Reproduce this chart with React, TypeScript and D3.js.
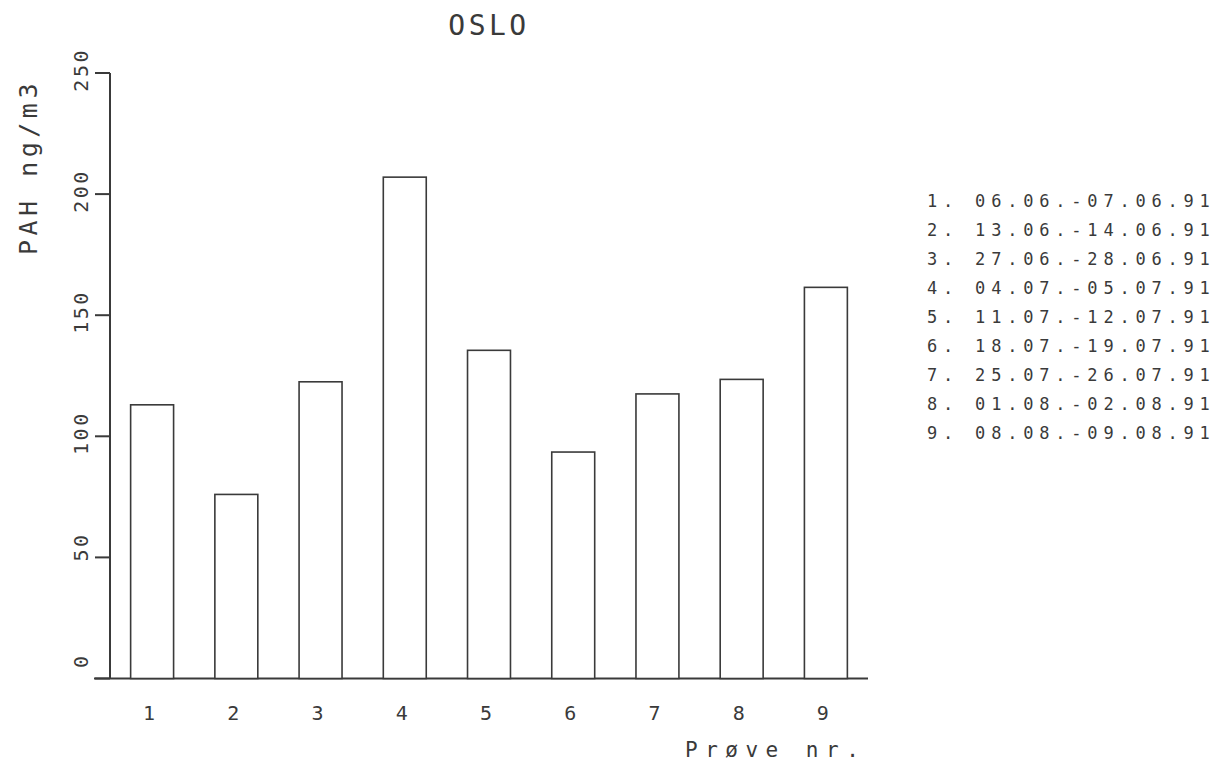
import React from 'react'
import * as d3 from 'd3'

// sample numbers, PAH values (ng/m3)
const samples = ['1', '2', '3', '4', '5', '6', '7', '8', '9']
const pah = [113, 76, 122.5, 207, 135.5, 93.5, 117.5, 123.5, 161.5]
const yTicks = [0, 50, 100, 150, 200, 250]
const periods = [
  '06.06.-07.06.91',
  '13.06.-14.06.91',
  '27.06.-28.06.91',
  '04.07.-05.07.91',
  '11.07.-12.07.91',
  '18.07.-19.07.91',
  '25.07.-26.07.91',
  '01.08.-02.08.91',
  '08.08.-09.08.91',
]

const W = 1217
const H = 765
const font = '"DejaVu Sans Mono", monospace'
const ink = '#3a3a3a'

export default function App() {
  const left = 110
  const right = 868
  const base = 678.5
  const top = 73

  const x = d3.scaleBand<string>()
    .domain(samples)
    .range([left, right])
    .paddingInner(0.49)
    .paddingOuter(0.245)

  const y = d3.scaleLinear().domain([0, 250]).range([base, top])

  return (
    <svg width={W} height={H} style={{ position: 'absolute', left: 0, top: 0, background: '#fff' }}>
      {/* title */}
      <text x={(left + right) / 2} y={35} textAnchor="middle" fontFamily={font} fontSize={28}
        letterSpacing={3.5} fill={ink}>OSLO</text>

      {/* y axis title */}
      <text transform={`translate(37,167) rotate(-90)`} textAnchor="middle" fontFamily={font}
        fontSize={25} letterSpacing={4.5} fill={ink}>PAH ng/m3</text>

      {/* axes */}
      <line x1={left} x2={left} y1={top} y2={base} stroke={ink} strokeWidth={2} />
      <line x1={94} x2={right} y1={base} y2={base} stroke={ink} strokeWidth={2} />
      {yTicks.map(t => (
        <g key={t}>
          <line x1={95} x2={left} y1={y(t)} y2={y(t)} stroke={ink} strokeWidth={2} />
          <text transform={`translate(88,${y(t) - 25}) rotate(-90)`} textAnchor="end"
            fontFamily={font} fontSize={20} letterSpacing={2.5} fill={ink}>{t}</text>
        </g>
      ))}

      {/* bars */}
      {samples.map((s, i) => (
        <rect key={s} x={x(s)} y={y(pah[i])} width={x.bandwidth()} height={base - y(pah[i])}
          fill="#fff" stroke={ink} strokeWidth={1.6} />
      ))}

      {/* x labels */}
      {samples.map(s => (
        <text key={s} x={(x(s) as number) + x.bandwidth() / 2 - 3} y={720} textAnchor="middle"
          fontFamily={font} fontSize={20} fill={ink}>{s}</text>
      ))}
      <text x={685} y={757} fontFamily={font} fontSize={21} letterSpacing={7.5} fill={ink}>Prøve nr.</text>

      {/* legend with sampling periods */}
      {periods.map((p, i) => (
        <text key={p} x={927} y={207 + i * 29} fontFamily={font} fontSize={17}
          letterSpacing={5.8} fill={ink} style={{ whiteSpace: 'pre' }}>{`${i + 1}. ${p}`}</text>
      ))}
    </svg>
  )
}
